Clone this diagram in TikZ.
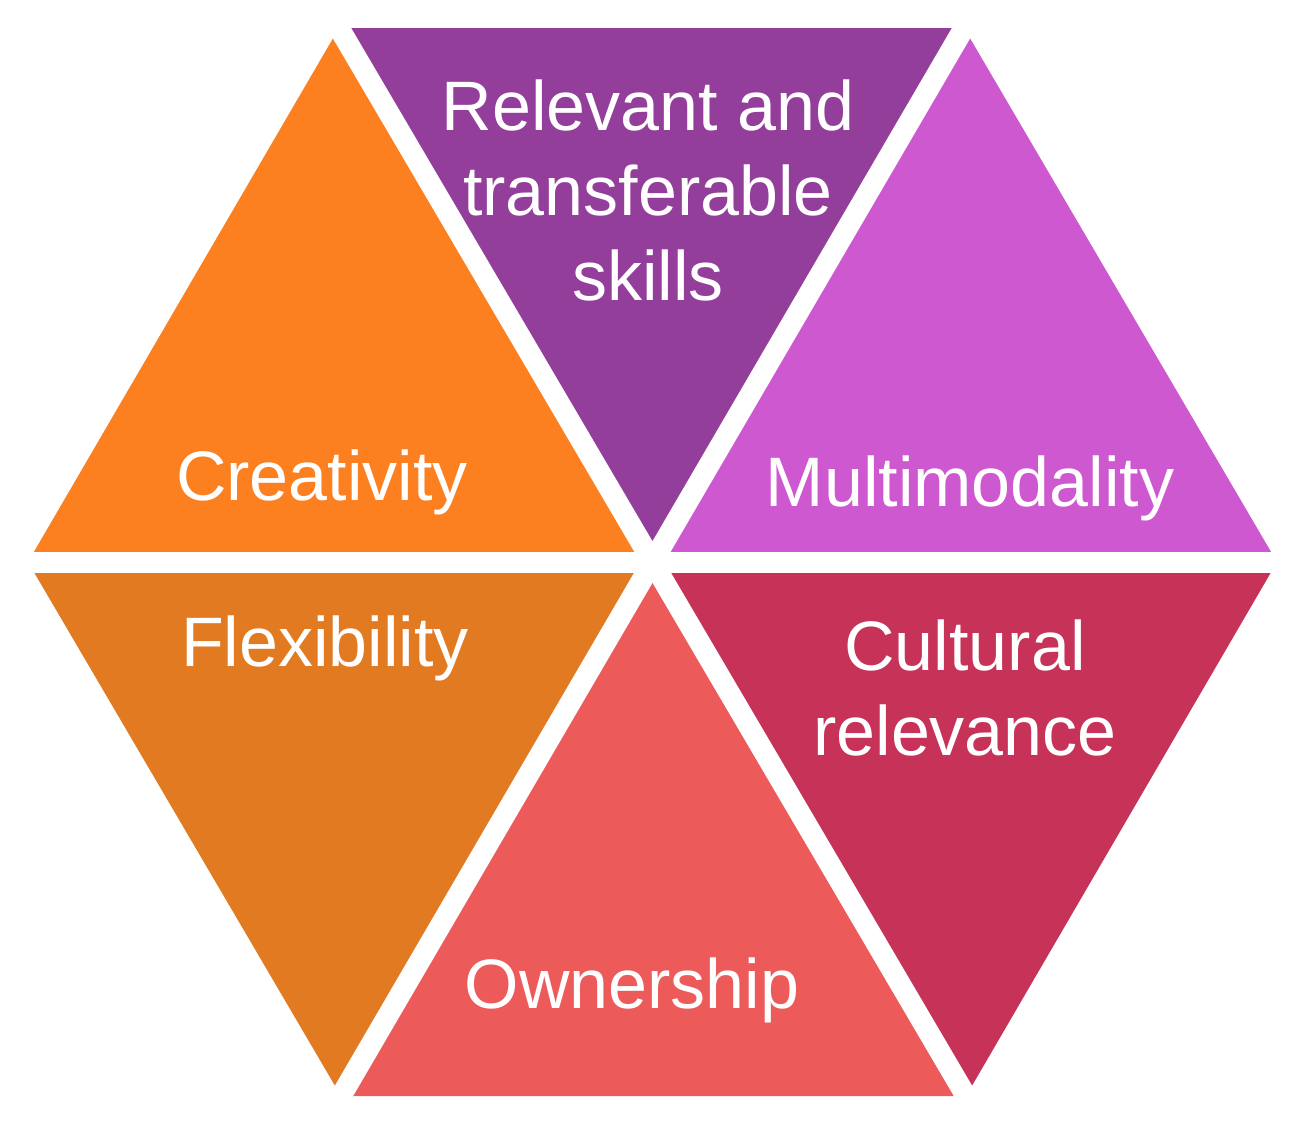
\documentclass[tikz,border=0pt]{standalone}
\usepackage{fontspec}
\setmainfont{Liberation Sans}
\definecolor{cOrange}{RGB}{252,128,32}
\definecolor{cPurple}{RGB}{148,62,156}
\definecolor{cMagenta}{RGB}{206,88,208}
\definecolor{cDarkOrange}{RGB}{226,122,34}
\definecolor{cCoral}{RGB}{236,90,90}
\definecolor{cCrimson}{RGB}{198,50,88}
\begin{document}
\begin{tikzpicture}[x=0.5pt,y=-0.5pt,
  lbl/.style={text=white,align=center,font=\fontsize{35}{42.5}\selectfont,inner sep=0pt},
  gap/.style={white,line width=10.5pt,shorten <=-10pt,shorten >=-10pt}]
\fill[white] (0,0) rectangle (1306,1121);
\useasboundingbox (0,0) rectangle (1306,1121);
\coordinate (C) at (652,562);
\coordinate (L) at (28,562);
\coordinate (R) at (1277,562);
\coordinate (TL) at (339,28);
\coordinate (TR) at (964,28);
\coordinate (BL) at (341,1096);
\coordinate (BR) at (966,1096);
% triangles
\fill[cOrange] (L) -- (TL) -- (C) -- cycle;
\fill[cPurple] (TL) -- (TR) -- (C) -- cycle;
\fill[cMagenta] (TR) -- (R) -- (C) -- cycle;
\fill[cCrimson] (R) -- (BR) -- (C) -- cycle;
\fill[cCoral] (BR) -- (BL) -- (C) -- cycle;
\fill[cDarkOrange] (BL) -- (L) -- (C) -- cycle;
% white gaps
\draw[gap] (L) -- (R);
\draw[gap] (TL) -- (BR);
\draw[gap] (TR) -- (BL);
% labels
\node[lbl] (rel) at (648,190) {Relevant and\\transferable\\skills};
\node[lbl] (cre) at (322,482) {Creativity};
\node[lbl] (mul) at (970,488) {Multimodality};
\node[lbl] (fle) at (325,648) {Flexibility};
\node[lbl] (cul) at (965,688) {Cultural\\relevance};
\node[lbl] (own) at (632,990) {Ownership};
\end{tikzpicture}
\end{document}
